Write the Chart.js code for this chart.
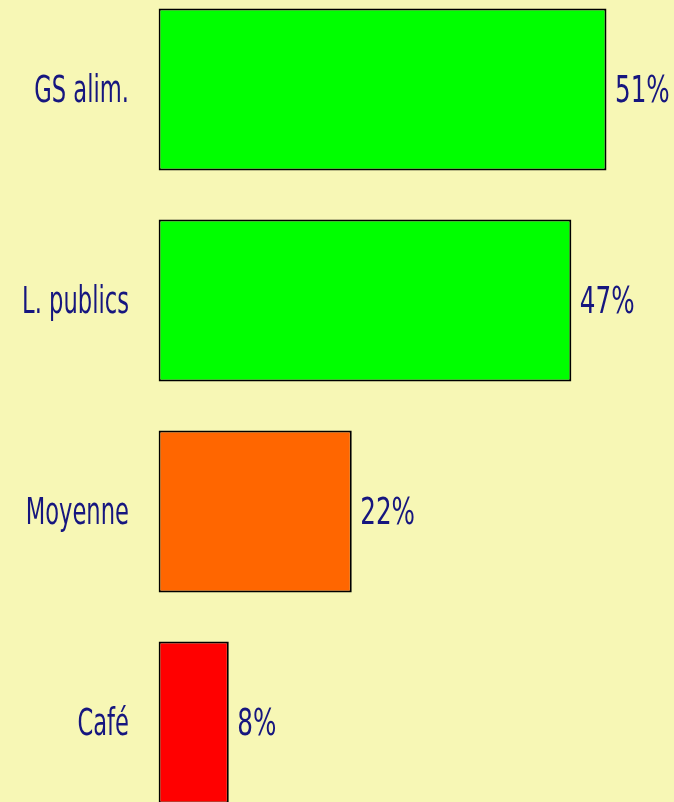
<!DOCTYPE html>
<html>
<head>
<meta charset="utf-8">
<script src="https://cdn.jsdelivr.net/npm/chart.js@4.4.1/dist/chart.umd.min.js"></script>
<style>
  html, body { margin: 0; padding: 0; background: #f7f7b5; overflow: hidden; width: 674px; height: 802px; }
  #chart { position: absolute; left: 0; top: -16px; }
</style>
</head>
<body>
<canvas id="chart" width="674" height="844"></canvas>
<script>
var categories = ["GS alim.", "L. publics", "Moyenne", "Café"];
var values = [51, 47, 22, 8];
var barColors = ["#00ff00", "#00ff00", "#ff6600", "#ff0000"];

var textColor = "#16167f";
var textFont = "37px 'Liberation Sans Narrow', 'DejaVu Sans Condensed', sans-serif";
var nameSqueeze = 0.68;
var valueSqueeze = 0.74;

// draws category names on the left and percentages at the bar ends
var labelPlugin = {
  id: "barLabels",
  afterDatasetsDraw: function(chart) {
    var ctx = chart.ctx;
    var meta = chart.getDatasetMeta(0);
    var area = chart.chartArea;
    ctx.save();
    ctx.font = textFont;
    ctx.fillStyle = textColor;
    ctx.textBaseline = "alphabetic";
    meta.data.forEach(function(bar, i) {
      ctx.save();
      ctx.translate(area.left - 29.5, bar.y + 12);
      ctx.scale(nameSqueeze, 1);
      ctx.textAlign = "right";
      ctx.fillText(categories[i], 0, 0);
      ctx.restore();

      ctx.save();
      ctx.translate(bar.x + 8.5, bar.y + 12);
      ctx.scale(valueSqueeze, 1);
      ctx.textAlign = "left";
      ctx.fillText(values[i] + "%", 0, 0);
      ctx.restore();
    });
    ctx.restore();
  }
};

var ctx = document.getElementById("chart").getContext("2d");

new Chart(ctx, {
  type: "bar",
  data: {
    labels: categories,
    datasets: [{
      data: values,
      backgroundColor: barColors,
      borderColor: "#000000",
      borderWidth: 2,
      borderSkipped: false,
      barPercentage: 0.768,
      categoryPercentage: 1
    }]
  },
  options: {
    indexAxis: "y",
    responsive: false,
    animation: false,
    layout: {
      padding: { left: 158.5, right: 14.8, top: 0, bottom: 0 }
    },
    plugins: {
      legend: { display: false },
      tooltip: { enabled: false }
    },
    scales: {
      x: { display: false, min: 0, max: 57 },
      y: { display: false }
    }
  },
  plugins: [labelPlugin]
});
</script>
</body>
</html>
